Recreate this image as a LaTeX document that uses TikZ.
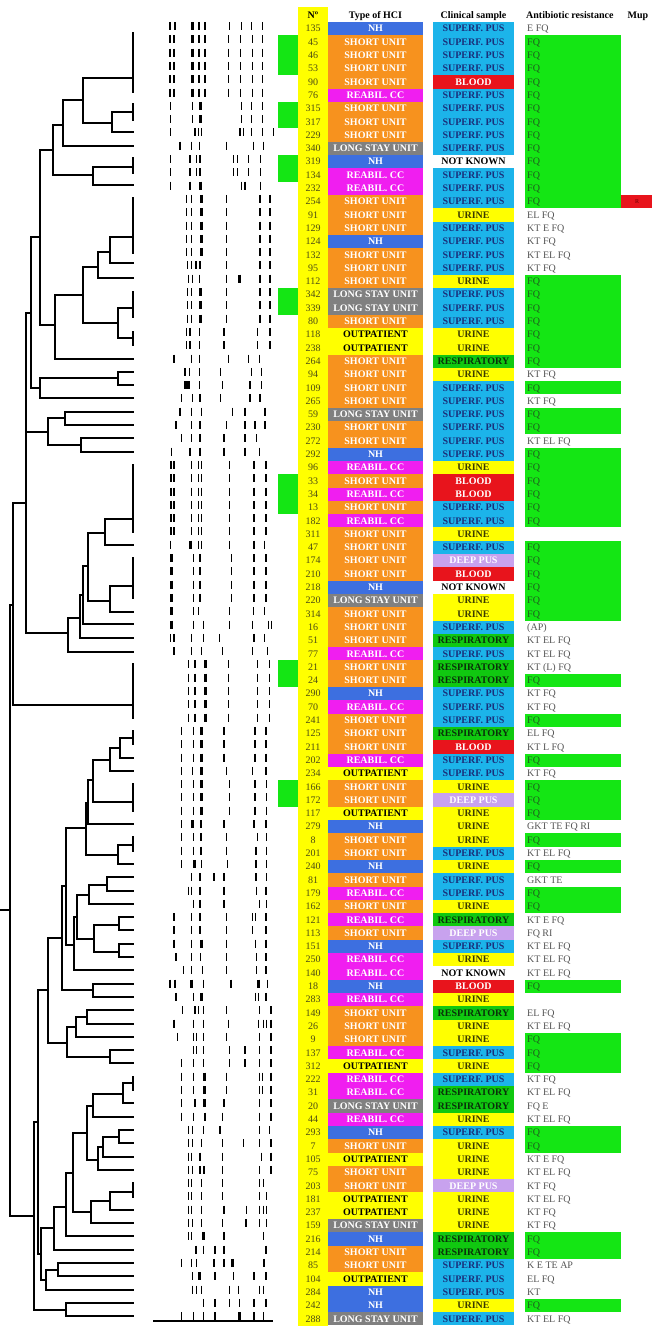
\documentclass[tikz,border=0pt]{standalone}
\usepackage{fontspec}
\setmainfont{Liberation Serif}
\definecolor{nhblue}{HTML}{3D6FE0}
\definecolor{suorange}{HTML}{F7921E}
\definecolor{rcmag}{HTML}{F01EF0}
\definecolor{lsgrey}{HTML}{808080}
\definecolor{ylw}{HTML}{FFFF00}
\definecolor{spcyan}{HTML}{1CB4EA}
\definecolor{bred}{HTML}{E8141C}
\definecolor{rspgreen}{HTML}{10C810}
\definecolor{dplav}{HTML}{C8A2EE}
\definecolor{abgreen}{HTML}{14E614}
\definecolor{numtxt}{HTML}{4C4C14}
\definecolor{abgrey}{HTML}{555555}
\definecolor{abdark}{HTML}{1E5A1E}
\definecolor{navy}{HTML}{1A2F7A}
\definecolor{olive}{HTML}{3A3A00}
\definecolor{dgreen}{HTML}{0A300A}
\definecolor{mupdark}{HTML}{700000}
% type of HCI
\def\TyFN{nhblue}\def\TyCN{white}\def\TyTN{NH}
\def\TyFS{suorange}\def\TyCS{white}\def\TyTS{SHORT UNIT}
\def\TyFR{rcmag}\def\TyCR{white}\def\TyTR{REABIL. CC}
\def\TyFL{lsgrey}\def\TyCL{white}\def\TyTL{LONG STAY UNIT}
\def\TyFO{ylw}\def\TyCO{black}\def\TyTO{OUTPATIENT}
% clinical sample
\def\SaFP{spcyan}\def\SaCP{navy}\def\SaTP{SUPERF. PUS}
\def\SaFB{bred}\def\SaCB{white}\def\SaTB{BLOOD}
\def\SaFK{white}\def\SaCK{black}\def\SaTK{NOT KNOWN}
\def\SaFU{ylw}\def\SaCU{olive}\def\SaTU{URINE}
\def\SaFX{rspgreen}\def\SaCX{dgreen}\def\SaTX{RESPIRATORY}
\def\SaFD{dplav}\def\SaCD{white}\def\SaTD{DEEP PUS}
\tikzset{
  cell/.style={inner sep=0pt, text height=6.6pt, text depth=0pt, font=\fontsize{10}{12}\selectfont\bfseries},
  numcell/.style={inner sep=0pt, text height=6.6pt, text depth=0pt, font=\fontsize{10}{12}\selectfont, text=numtxt},
  abcell/.style={inner sep=0pt, text height=6.6pt, text depth=0pt, font=\fontsize{10}{12}\selectfont, anchor=west},
  hdr/.style={inner sep=0pt, text height=6.6pt, text depth=0pt, font=\fontsize{10}{12}\selectfont\bfseries},
  dg/.style={line width=1.2pt, line cap=rect},
}
\begin{document}
\begin{tikzpicture}[x=1pt,y=-1pt]
\useasboundingbox (0,0) rectangle (652,1326);
\fill[white] (0,0) rectangle (652,1326);
% yellow number column
\fill[ylw] (298,7) rectangle (328,1326);
% left green markers
\foreach \a/\b in {2/4,7/8,11/12,21/22,35/37,49/50,58/59}{
  \pgfmathsetmacro\ya{22+(\a-1)*13.3}
  \pgfmathsetmacro\yb{22+\b*13.3}
  \fill[abgreen] (278,\ya) rectangle (298,\yb);
}
% headers
\node[hdr] (hn) at (313,15) {Nº};
\node[hdr] (ht) at (375.5,15) {Type of HCI};
\node[hdr] (hc) at (473.5,15) {Clinical sample};
\node[hdr,anchor=west] (ha) at (526,15) {Antibiotic resistance};
\node[hdr] (hm) at (638,15) {Mup};
% table rows
\foreach \i/\n/\tp/\sa/\ab/\g in {
1/135/N/P/E FQ/0, 2/45/S/P/FQ/1, 3/46/S/P/FQ/1, 4/53/S/P/FQ/1, 5/90/S/B/FQ/1,
6/76/R/P/FQ/1, 7/315/S/P/FQ/1, 8/317/S/P/FQ/1, 9/229/S/P/FQ/1, 10/340/L/P/FQ/1,
11/319/N/K/FQ/1, 12/134/R/P/FQ/1, 13/232/R/P/FQ/1, 14/254/S/P/FQ/1, 15/91/S/U/EL FQ/0,
16/129/S/P/KT E FQ/0, 17/124/N/P/KT FQ/0, 18/132/S/P/KT EL FQ/0, 19/95/S/P/KT FQ/0, 20/112/S/U/FQ/1,
21/342/L/P/FQ/1, 22/339/L/P/FQ/1, 23/80/S/P/FQ/1, 24/118/O/U/FQ/1, 25/238/O/U/FQ/1,
26/264/S/X/FQ/1, 27/94/S/U/KT FQ/0, 28/109/S/P/FQ/1, 29/265/S/P/KT FQ/0, 30/59/L/P/FQ/1,
31/230/S/P/FQ/1, 32/272/S/P/KT EL FQ/0, 33/292/N/P/FQ/1, 34/96/R/U/FQ/1, 35/33/S/B/FQ/1,
36/34/R/B/FQ/1, 37/13/S/P/FQ/1, 38/182/R/P/FQ/1, 39/311/S/U//0, 40/47/S/P/FQ/1,
41/174/S/D/FQ/1, 42/210/S/B/FQ/1, 43/218/N/K/FQ/1, 44/220/L/U/FQ/1, 45/314/S/U/FQ/1,
46/16/S/P/(AP)/0, 47/51/S/X/KT EL FQ/0, 48/77/R/P/KT EL FQ/0, 49/21/S/X/KT (L) FQ/0, 50/24/S/X/FQ/1,
51/290/N/P/KT FQ/0, 52/70/R/P/KT FQ/0, 53/241/S/P/FQ/1, 54/125/S/X/EL FQ/0, 55/211/S/B/KT L FQ/0,
56/202/R/P/FQ/1, 57/234/O/P/KT FQ/0, 58/166/S/U/FQ/1, 59/172/S/D/FQ/1, 60/117/O/U/FQ/1,
61/279/N/U/GKT TE FQ RI/0, 62/8/S/U/FQ/1, 63/201/S/P/KT EL FQ/0, 64/240/N/U/FQ/1, 65/81/S/P/GKT TE/0,
66/179/R/P/FQ/1, 67/162/S/U/FQ/1, 68/121/R/X/KT E FQ/0, 69/113/S/D/FQ RI/0, 70/151/N/P/KT EL FQ/0,
71/250/R/U/KT EL FQ/0, 72/140/R/K/KT EL FQ/0, 73/18/N/B/FQ/1, 74/283/R/U//0, 75/149/S/X/EL FQ/0,
76/26/S/U/KT EL FQ/0, 77/9/S/U/FQ/1, 78/137/R/P/FQ/1, 79/312/O/U/FQ/1, 80/222/R/P/KT FQ/0,
81/31/R/X/KT EL FQ/0, 82/20/L/X/FQ E/0, 83/44/R/U/KT EL FQ/0, 84/293/N/P/FQ/1, 85/7/S/U/FQ/1,
86/105/O/U/KT E FQ/0, 87/75/S/U/KT EL FQ/0, 88/203/S/D/KT FQ/0, 89/181/O/U/KT EL FQ/0, 90/237/O/U/KT FQ/0,
91/159/L/U/KT FQ/0, 92/216/N/X/FQ/1, 93/214/S/X/FQ/1, 94/85/S/P/K E TE AP/0, 95/104/O/P/EL FQ/0,
96/284/N/P/KT/0, 97/242/N/U/FQ/1, 98/288/L/P/KT EL FQ/0}{
  \pgfmathsetmacro\yt{22+(\i-1)*13.3}
  \pgfmathsetmacro\yB{\yt+13.3}
  \pgfmathsetmacro\yc{\yt+6.65}
  \edef\cTF{\csname TyF\tp\endcsname}
  \edef\cTC{\csname TyC\tp\endcsname}
  \edef\cSF{\csname SaF\sa\endcsname}
  \edef\cSC{\csname SaC\sa\endcsname}
  \fill[fill=\cTF] (328,\yt) rectangle (423,\yB);
  \fill[fill=\cSF] (433,\yt) rectangle (514,\yB);
  \ifnum\g=1
    \fill[abgreen] (525,\yt) rectangle (621,\yB);
    \node[abcell,text=abdark] (ab\i) at (527,\yc) {\ab};
  \else
    \node[abcell,text=abgrey] (ab\i) at (527,\yc) {\ab};
  \fi
  \node[numcell] (n\i) at (313,\yc) {\n};
  \node[cell,text=\cTC] (t\i) at (375.5,\yc) {\csname TyT\tp\endcsname};
  \node[cell,text=\cSC] (s\i) at (473.5,\yc) {\csname SaT\sa\endcsname};
}
% Mup
\fill[bred] (621,194.9) rectangle (652,208.2);
\node[inner sep=0pt,font=\fontsize{6}{7}\selectfont,text=mupdark] (mup) at (637,201.5) {R};
% band patterns (x in 1/3 px; >1000 = thick band)
\foreach \r/\L in {
1/{510,525,1578,597,615,688,725,755,788},
2/{510,522,1578,597,615,685,722,757,788},
3/{510,522,1578,597,615,685,722,757,788},
4/{510,522,1578,597,615,685,722,757,788},
5/{510,522,1578,597,615,685,722,757,788},
6/{510,522,1578,597,615,685,722,757,788},
7/{512,577,1600,725,755,788},
8/{512,577,1600,725,755,788},
9/{512,585,595,605,720,730,755,788,820},
10/{540,575,598,680,760,790},
11/{512,570,590,600,700,712,745,782},
12/{512,570,590,600,700,712,745,782},
13/{512,570,1600,725,735,782},
14/{560,575,1603,680,780,810},
15/{560,575,1603,680,780,810},
16/{560,575,1603,680,780,810},
17/{560,575,1603,680,780,810},
18/{560,575,1603,680,780,810},
19/{563,575,588,600,680,780,810},
20/{565,578,598,680,1718,780,810},
21/{563,575,1600,680,780,810},
22/{563,575,1600,680,780,810},
23/{563,575,1600,680,780,810},
24/{560,570,598,672,772,810},
25/{560,570,598,672,772,810},
26/{522,575,598,685,745,778},
27/{555,568,598,662,755,785},
28/{1557,1566,598,668,750,785},
29/{545,578,600,662,750,780},
30/{540,575,605,698,735,795},
31/{528,575,600,680,735,765,795},
32/{545,575,600,672,735,770},
33/{515,570,600,672,735,778},
34/{513,522,575,595,605,688,762,798},
35/{513,522,575,595,605,688,762,798},
36/{513,522,575,595,605,688,762,798},
37/{513,522,575,595,605,688,762,798},
38/{513,522,575,595,605,688,762,798},
39/{513,522,575,595,605,688,762,798},
40/{512,1572,595,605,688,762,793},
41/{1515,580,600,695,762,798},
42/{1515,580,600,695,762,798},
43/{1515,580,600,695,762,798},
44/{1515,580,600,695,762,798},
45/{1515,580,595,688,760,793},
46/{1515,580,610,688,757,805,815},
47/{512,522,575,610,658,762,793},
48/{522,575,605,668,757,802},
49/{565,585,1615,685,772,808},
50/{565,585,1615,685,772,808},
51/{565,585,1615,685,772,808},
52/{565,585,1615,685,772,808},
53/{565,585,1615,685,772,808},
54/{545,580,1605,672,765,798},
55/{545,580,1605,672,765,798},
56/{545,580,1605,672,765,798},
57/{545,578,1603,680,757,798},
58/{545,580,1603,688,765,800},
59/{545,580,1603,688,765,800},
60/{545,580,1603,688,765,800},
61/{545,1578,603,672,762,798},
62/{545,580,603,680,772,800},
63/{545,580,603,680,768,800},
64/{545,1582,605,682,768,800},
65/{575,600,642,672,768,800},
66/{565,575,600,672,770,798},
67/{580,600,672,778,800},
68/{522,575,600,680,757,767,798},
69/{522,575,600,680,757,798},
70/{522,575,1605,680,767,798},
71/{528,575,602,680,770,798},
72/{550,575,608,680,770,798},
73/{510,525,1575,610,693,1775,802},
74/{528,580,1603,767,775,798},
75/{548,585,595,610,680,778,813},
76/{522,580,610,685,775,790,800,813},
77/{532,580,590,610,680,778,813},
78/{580,590,610,688,735,778,813},
79/{545,580,610,688,735,778,813},
80/{545,580,1613,680,778,788,813},
81/{545,580,1613,680,778,788,813},
82/{545,585,1613,672,778,813},
83/{545,580,615,668,778,813},
84/{565,578,610,660,778,808},
85/{565,578,605,668,730,778,813},
86/{565,575,600,668,785,813},
87/{565,578,600,612,668,778,813},
88/{565,575,605,668,778,790},
89/{565,575,605,668,778,800},
90/{565,575,605,672,740,778,790,800},
91/{565,578,605,668,738,778,800},
92/{565,575,1610,672,790},
93/{588,610,645,672,798},
94/{545,575,590,642,672,1697,792},
95/{578,1598,645,700,762,798},
96/{578,590,605,688,715,778,790},
97/{610,645,688,718,762,798},
98/{545,580,610,645,1718,762,790}}{
  \pgfmathsetmacro\yb{26+(\r-1)*13.3}
  \foreach \x in \L {
    \ifnum\x>1000
      \pgfmathsetmacro\xb{(\x-1000)/3}
      \draw[line width=3pt] (\xb,{\yb-4}) -- (\xb,{\yb+4});
    \else
      \pgfmathsetmacro\xb{\x/3}
      \draw[line width=1.3pt] (\xb,{\yb-4}) -- (\xb,{\yb+4});
    \fi
  }
}
\draw[line width=1.2pt] (153,1321) -- (273,1321);
% dendrogram: identical-leaf groups
\foreach \ya/\yb in {33/92,104/120,158/173,198/253,292/317,332/345,465/532,558/598,
  664/718,731/744,784/811,837/851,1077/1090,1183/1197}{
  \draw[dg] (133,\ya) -- (133,\yb);
}
% dendrogram: brackets x / y1 / child-x1 / y2 / child-x2
\foreach \x/\ya/\ca/\yb/\cb in {
112/112/133/132/133, 83/78/133/123/112, 63/100/83/146/133,
93/167/133/185/133, 53/125/63/175/93,
110/237/133/263/133, 98/252/110/278/133,
118/308/133/338/133, 83/267/98/323/118, 55/295/83/359/133, 40/150/53/325/55,
118/372/133/385/133, 40/378/118/398/133, 31/237/40/388/40,
65/412/133/425/133, 81/438/133/452/133, 48/418/65/445/81,
105/519/133/545/133, 110/586/133/612/133, 88/533/105/601/110, 83/566/88/624/133,
80/595/83/638/133, 68/618/80/652/133, 26/313/31/633/68,
13/503/26/705/133,
120/738/133/758/133, 110/748/120/771/133, 93/760/110/802/133, 88/780/93/824/133,
118/845/133/864/133, 86/803/88/855/118,
107/877/133/891/133, 89/885/107/904/133, 119/917/133/930/133, 119/944/133/957/133,
94/925/119/952/119, 77/895/89/939/94, 74/917/77/970/133, 66/828/86/945/74,
93/984/133/997/133, 62/886/66/990/93,
87/1010/133/1024/133, 76/1017/87/1037/133, 110/1050/133/1063/133, 67/1027/76/1057/110,
48/938/62/1043/67,
123/1083/133/1103/133, 93/1094/123/1117/133, 119/1130/133/1143/133, 103/1137/119/1157/133,
98/1147/103/1170/133, 87/1106/93/1160/98,
110/1192/133/1210/133, 91/1201/110/1223/133, 73/1133/87/1212/91, 66/1173/73/1236/133,
54/1207/66/1250/133, 58/1263/133/1276/133, 46/1270/58/1290/133, 41/1228/54/1280/46,
38/990/48/1254/41, 66/1303/133/1316/133, 34/1122/38/1310/66, 10/605/13/1216/34}{
  \draw[dg] (\ca,\ya) -- (\x,\ya) -- (\x,\yb) -- (\cb,\yb);
}
\draw[dg] (26,432) -- (48,432);
\draw[dg] (1,910) -- (10,910);
\end{tikzpicture}
\end{document}
